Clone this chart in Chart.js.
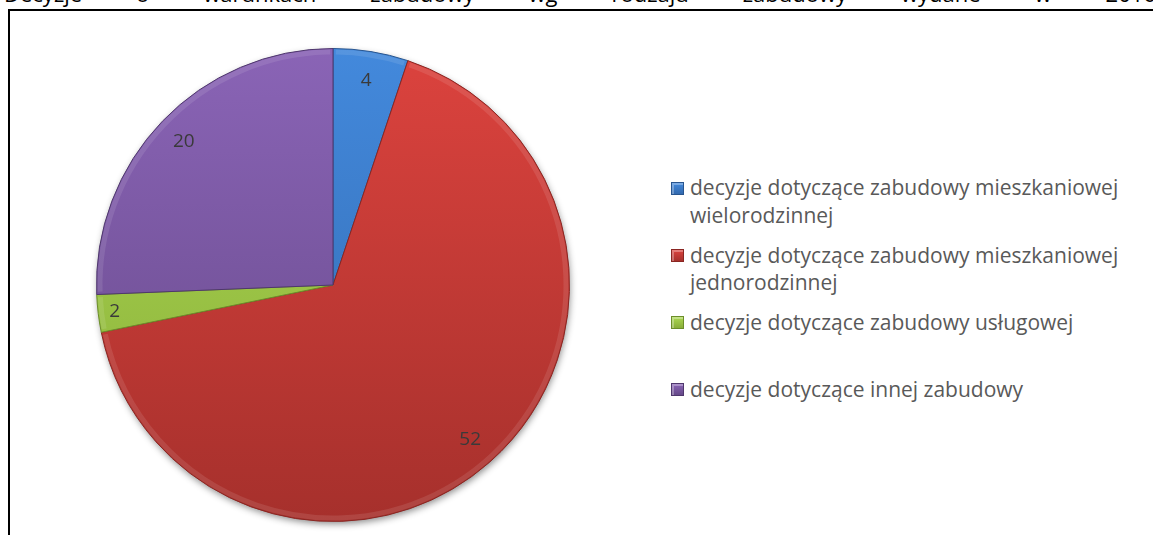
<!DOCTYPE html>
<html>
<head>
<meta charset="utf-8">
<script src="https://cdn.jsdelivr.net/npm/chart.js@4/dist/chart.umd.min.js"></script>
<style>
  html, body { margin:0; padding:0; width:1153px; height:535px; overflow:hidden; background:#fff; }
  #title { position:absolute; left:4px; width:1152px; top:-18px; height:30px; line-height:22px;
           font-family:"Open Sans", sans-serif; font-size:22px; color:#000; display:flex; justify-content:space-between; white-space:nowrap; }
  #frame { position:absolute; left:8px; top:9px; width:1200px; height:600px; border-left:2px solid #000; border-top:2px solid #000; background:#fff; }
  #wrap { position:absolute; left:76px; top:28px; width:514px; height:514px; }
  #legend { position:absolute; left:671px; top:0; font-family:"Open Sans", sans-serif; color:#595959; }
  .item { position:absolute; left:0; width:470px; }
  .mk { position:absolute; left:0; width:13px; height:13px; box-sizing:border-box; }
  .tx { position:absolute; left:19px; width:445px; }
</style>
</head>
<body>
<div id="title"></div>
<div id="frame"></div>
<div id="wrap"><canvas id="c"></canvas></div>
<div id="legend"></div>
<script>
const titleWords = "Decyzje o warunkach zabudowy wg rodzaju zabudowy wydane w 2016".split(" ");
const categories = [
  "decyzje dotyczące zabudowy mieszkaniowej wielorodzinnej",
  "decyzje dotyczące zabudowy mieszkaniowej jednorodzinnej",
  "decyzje dotyczące zabudowy usługowej",
  "decyzje dotyczące innej zabudowy"
];
const values = [4, 52, 2, 20];
const lightColors = ["#4389dc", "#dc433e", "#acd852", "#8a64b6"];
const darkColors  = ["#3269ae", "#a6302c", "#88ad38", "#654888"];
const edgeColors  = ["#28558f", "#8a2622", "#6c8e2a", "#4f376d"];

// title
const t = document.getElementById("title");
titleWords.forEach(w => { const s = document.createElement("span"); s.textContent = w; t.appendChild(s); });

// legend
const meas = document.createElement("canvas").getContext("2d");
let fs = 20;
for (let f = 24; f > 10; f -= 0.25) {
  meas.font = f + "px 'Open Sans'";
  if (meas.measureText("decyzje dotyczące zabudowy mieszkaniowej").width <= 430) { fs = f; break; }
}
const lineH = 27.5;
const slot = 67.3;
const legend = document.getElementById("legend");
categories.forEach((c, i) => {
  const it = document.createElement("div");
  it.className = "item";
  it.style.top = (188 - lineH / 2 + i * slot) + "px";
  it.style.fontSize = fs + "px";
  it.style.lineHeight = lineH + "px";
  const mk = document.createElement("div");
  mk.className = "mk";
  mk.style.top = (lineH / 2 - 6.5) + "px";
  mk.style.background = "linear-gradient(180deg," + lightColors[i] + "," + darkColors[i] + ")";
  mk.style.border = "1px solid " + edgeColors[i];
  mk.style.boxShadow = "inset 2px 2px 0 rgba(255,255,255,0.3)";
  const tx = document.createElement("div");
  tx.className = "tx";
  tx.textContent = c;
  it.appendChild(mk); it.appendChild(tx);
  legend.appendChild(it);
});

function grad(ctx, i) {
  const chart = ctx.chart;
  const a = chart.chartArea;
  if (!a) return lightColors[i];
  const g = chart.ctx.createLinearGradient(0, a.top, 0, a.bottom);
  g.addColorStop(0, lightColors[i]);
  g.addColorStop(1, darkColors[i]);
  return g;
}

const shadowPlugin = {
  id: "shadowPlugin",
  beforeDatasetsDraw(chart) {
    const arc = chart.getDatasetMeta(0).data[0];
    if (!arc) return;
    const ctx = chart.ctx;
    ctx.save();
    ctx.shadowColor = "rgba(0,0,0,0.45)";
    ctx.shadowBlur = 7;
    ctx.shadowOffsetX = 1;
    ctx.shadowOffsetY = 3;
    ctx.fillStyle = "#888";
    ctx.beginPath();
    ctx.arc(arc.x, arc.y, arc.outerRadius - 0.5, 0, Math.PI * 2);
    ctx.fill();
    ctx.restore();
  }
};

const bevelPlugin = {
  id: "bevelPlugin",
  afterDatasetsDraw(chart) {
    const ctx = chart.ctx;
    chart.getDatasetMeta(0).data.forEach((arc) => {
      ctx.save();
      ctx.beginPath();
      ctx.arc(arc.x, arc.y, arc.outerRadius - 3.5, arc.startAngle + 0.012, arc.endAngle - 0.012);
      ctx.strokeStyle = "rgba(255,255,255,0.10)";
      ctx.lineWidth = 5;
      ctx.stroke();
      ctx.restore();
    });
  }
};

const labelPlugin = {
  id: "labelPlugin",
  afterDatasetsDraw(chart) {
    const ctx = chart.ctx;
    const meta = chart.getDatasetMeta(0);
    ctx.save();
    ctx.font = "19px 'Open Sans'";
    ctx.fillStyle = "#3a3a3a";
    ctx.textAlign = "center";
    ctx.textBaseline = "middle";
    meta.data.forEach((arc, i) => {
      const span = arc.endAngle - arc.startAngle;
      const mid = (arc.startAngle + arc.endAngle) / 2;
      const f = span < 0.27 ? 0.93 : 0.875;
      const r = arc.outerRadius * f;
      ctx.fillText(String(values[i]), arc.x + Math.cos(mid) * r, arc.y + Math.sin(mid) * r);
    });
    ctx.restore();
  }
};

new Chart(document.getElementById("c"), {
  type: "pie",
  data: {
    labels: categories,
    datasets: [{
      data: values,
      backgroundColor: ctx => grad(ctx, ctx.dataIndex),
      borderColor: edgeColors,
      borderWidth: 1
    }]
  },
  options: {
    responsive: true,
    maintainAspectRatio: false,
    animation: false,
    layout: { padding: 20 },
    plugins: { legend: { display: false }, tooltip: { enabled: false } }
  },
  plugins: [shadowPlugin, bevelPlugin, labelPlugin]
});
</script>
</body>
</html>
